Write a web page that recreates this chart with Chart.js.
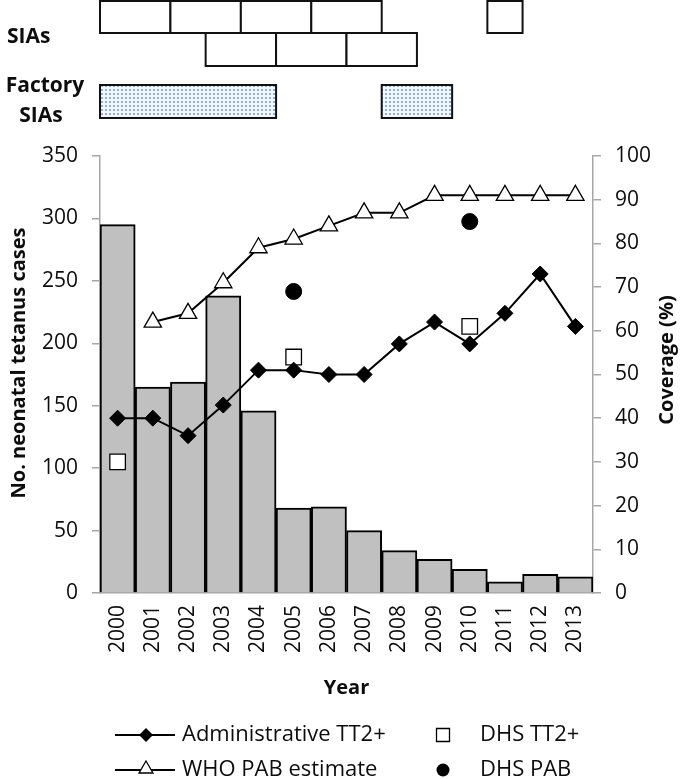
<!DOCTYPE html>
<html>
<head>
<meta charset="utf-8">
<script src="https://cdn.jsdelivr.net/npm/chart.js@4.4.0/dist/chart.umd.min.js"></script>
<style>
  html, body { margin: 0; padding: 0; background: #fff; }
  #wrap { width: 680px; height: 779px; }
</style>
</head>
<body>
<div id="wrap"><canvas id="chart" width="680" height="779"></canvas></div>
<script>
// data
const years = ["2000", "2001", "2002", "2003", "2004", "2005", "2006",
               "2007", "2008", "2009", "2010", "2011", "2012", "2013"];
const cases = [295, 165, 169, 238, 146, 68, 69, 50, 34, 27, 19, 9, 15, 13];
const adminTT2 = [40, 40, 36, 43, 51, 51, 50, 50, 57, 62, 57, 64, 73, 61];
const whoPab = [null, 62, 64, 71, 79, 81, 84, 87, 87, 91, 91, 91, 91, 91];
const dhsTT2 = [30, null, null, null, null, 54, null, null, null, null, 61, null, null, null];
const dhsPab = [null, null, null, null, null, 69, null, null, null, null, 85, null, null, null];

// campaign periods (start year, end year)
const siaRow1 = [[2000, 2002], [2002, 2004], [2004, 2006], [2006, 2008], [2011, 2012]];
const siaRow2 = [[2003, 2005], [2005, 2007], [2007, 2009]];
const factorySias = [[2000, 2005], [2008, 2010]];

const FONT = "'Open Sans', sans-serif";
const AXIS_GRAY = "#a6a6a6";
const TEXT = "#0d0d0d";

function dotPattern(ctx) {
    const c = document.createElement("canvas");
    c.width = 4;
    c.height = 4;
    const g = c.getContext("2d");
    g.fillStyle = "#f3f7fc";
    g.fillRect(0, 0, 4, 4);
    g.fillStyle = "#8db0da";
    g.fillRect(1, 1, 2, 2);
    return ctx.createPattern(c, "repeat");
}

function yearEdge(xScale, year) {
    return xScale.getPixelForValue(year - 2000 - 0.5);
}

function drawBoxes(ctx, xScale, periods, top, bottom, fill) {
    periods.forEach(([a, b]) => {
        const x0 = yearEdge(xScale, a);
        const x1 = yearEdge(xScale, b);
        ctx.fillStyle = fill;
        ctx.fillRect(x0, top, x1 - x0, bottom - top);
        ctx.strokeStyle = "#111";
        ctx.lineWidth = 2;
        ctx.strokeRect(x0, top, x1 - x0, bottom - top);
    });
}

function marker(ctx, style, x, y, r) {
    ctx.beginPath();
    if (style === "diamond") {
        ctx.moveTo(x, y - r); ctx.lineTo(x + r, y); ctx.lineTo(x, y + r); ctx.lineTo(x - r, y);
        ctx.closePath();
        ctx.fillStyle = "#000"; ctx.fill();
    } else if (style === "triangle") {
        ctx.moveTo(x, y - r); ctx.lineTo(x + r * 0.87, y + r / 2); ctx.lineTo(x - r * 0.87, y + r / 2);
        ctx.closePath();
        ctx.fillStyle = "#fff"; ctx.fill();
        ctx.strokeStyle = "#000"; ctx.lineWidth = 1.3; ctx.stroke();
    } else if (style === "square") {
        ctx.rect(x - r, y - r, 2 * r, 2 * r);
        ctx.fillStyle = "#fff"; ctx.fill();
        ctx.strokeStyle = "#000"; ctx.lineWidth = 1.3; ctx.stroke();
    } else {
        ctx.arc(x, y, r, 0, Math.PI * 2);
        ctx.fillStyle = "#000"; ctx.fill();
    }
}

const extras = {
    id: "extras",
    afterDraw(chart) {
        const ctx = chart.ctx;
        const x = chart.scales.x;
        ctx.save();

        // SIA boxes
        drawBoxes(ctx, x, siaRow1, 1, 33, "#fff");
        drawBoxes(ctx, x, siaRow2, 33, 66, "#fff");
        drawBoxes(ctx, x, factorySias, 85, 118, dotPattern(ctx));

        ctx.fillStyle = TEXT;
        ctx.font = "bold 21px " + FONT;
        ctx.textBaseline = "alphabetic";
        ctx.textAlign = "left";
        ctx.fillText("SIAs", 7, 43);
        ctx.textAlign = "center";
        ctx.fillText("Factory", 45, 92);
        ctx.fillText("SIAs", 41, 122);

        // axis titles, both read bottom to top
        ctx.font = "bold 20px " + FONT;
        ctx.textBaseline = "middle";
        ctx.save();
        ctx.translate(19, 363);
        ctx.rotate(-Math.PI / 2);
        ctx.fillText("No. neonatal tetanus cases", 0, 0);
        ctx.restore();
        ctx.save();
        ctx.translate(667, 360);
        ctx.rotate(-Math.PI / 2);
        ctx.fillText("Coverage (%)", 0, 0);
        ctx.restore();

        // legend
        ctx.font = "22px " + FONT;
        ctx.textAlign = "left";
        const rows = [735, 770];
        ctx.strokeStyle = "#000";
        ctx.lineWidth = 2;
        rows.forEach(y => {
            ctx.beginPath(); ctx.moveTo(115, y); ctx.lineTo(175, y); ctx.stroke();
        });
        marker(ctx, "diamond", 146, rows[0], 7);
        marker(ctx, "triangle", 146, rows[1] - 1, 8);
        marker(ctx, "square", 443, rows[0], 6.5);
        marker(ctx, "circle", 443, rows[1], 6.5);
        ctx.fillStyle = TEXT;
        ctx.fillText("Administrative TT2+", 182, rows[0]);
        ctx.fillText("WHO PAB estimate", 182, rows[1]);
        ctx.fillText("DHS TT2+", 480, rows[0]);
        ctx.fillText("DHS PAB", 480, rows[1]);

        ctx.restore();
    }
};

const canvas = document.getElementById("chart");

new Chart(canvas, {
    type: "bar",
    data: {
        labels: years,
        datasets: [
            {
                type: "line",
                label: "Administrative TT2+",
                data: adminTT2,
                yAxisID: "y1",
                borderColor: "#000",
                borderWidth: 2,
                pointStyle: "rectRot",
                pointRadius: 8,
                pointBackgroundColor: "#000",
                pointBorderColor: "#000",
                pointBorderWidth: 1,
                tension: 0,
                order: 1,
            },
            {
                type: "line",
                label: "WHO PAB estimate",
                data: whoPab,
                yAxisID: "y1",
                borderColor: "#000",
                borderWidth: 2,
                pointStyle: "triangle",
                pointRadius: 10,
                pointBackgroundColor: "#fff",
                pointBorderColor: "#000",
                pointBorderWidth: 1.3,
                tension: 0,
                order: 1,
            },
            {
                type: "line",
                label: "DHS TT2+",
                data: dhsTT2,
                yAxisID: "y1",
                showLine: false,
                pointStyle: "rect",
                pointRadius: 11,
                pointBackgroundColor: "#fff",
                pointBorderColor: "#000",
                pointBorderWidth: 1.3,
                order: 1,
            },
            {
                type: "line",
                label: "DHS PAB",
                data: dhsPab,
                yAxisID: "y1",
                showLine: false,
                pointStyle: "circle",
                pointRadius: 8,
                pointBackgroundColor: "#000",
                pointBorderColor: "#000",
                order: 1,
            },
            {
                type: "bar",
                label: "Neonatal tetanus cases",
                data: cases,
                yAxisID: "y",
                backgroundColor: "#c0c0c0",
                borderColor: "#000",
                borderWidth: 2,
                barPercentage: 1,
                categoryPercentage: 1,
                order: 10,
            },
        ],
    },
    options: {
        responsive: false,
        animation: false,
        layout: { padding: { top: 156, bottom: 66, left: 0, right: 0 } },
        plugins: {
            legend: { display: false },
            tooltip: { enabled: false },
        },
        scales: {
            x: {
                grid: { display: false, drawTicks: false },
                border: { color: AXIS_GRAY, width: 1.5 },
                ticks: {
                    minRotation: 90,
                    maxRotation: 90,
                    autoSkip: false,
                    padding: 12,
                    color: TEXT,
                    font: { family: FONT, size: 21 },
                },
                title: {
                    display: true,
                    text: "Year",
                    color: TEXT,
                    font: { family: FONT, size: 20, weight: "bold" },
                    padding: { top: 4, bottom: 13 },
                },
                afterFit(scale) { scale.height = 120; },
            },
            y: {
                position: "left",
                min: 0,
                max: 350,
                ticks: {
                    stepSize: 50,
                    padding: 14,
                    color: TEXT,
                    font: { family: FONT, size: 21 },
                },
                grid: { drawOnChartArea: false, color: AXIS_GRAY, tickLength: 8, lineWidth: 1.5 },
                border: { color: AXIS_GRAY, width: 1.5 },
                afterFit(scale) { scale.width = 100; },
            },
            y1: {
                position: "right",
                min: 0,
                max: 100,
                ticks: {
                    stepSize: 10,
                    padding: 14,
                    color: TEXT,
                    font: { family: FONT, size: 21 },
                },
                grid: { drawOnChartArea: false, color: AXIS_GRAY, tickLength: 8, lineWidth: 1.5 },
                border: { color: AXIS_GRAY, width: 1.5 },
                afterFit(scale) { scale.width = 87; },
            },
        },
    },
    plugins: [extras],
});
</script>
</body>
</html>
